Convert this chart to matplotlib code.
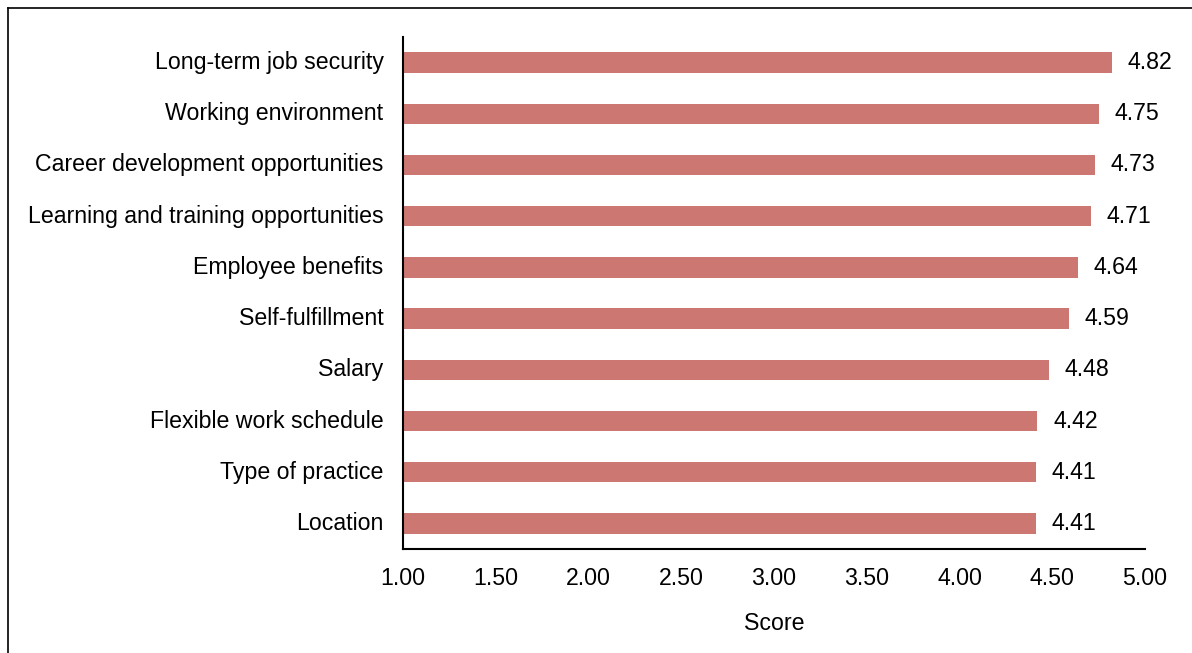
import matplotlib.pyplot as plt
from matplotlib.lines import Line2D

plt.rcParams['font.family'] = ['Liberation Sans', 'DejaVu Sans']

factors = ['Long-term job security', 'Working environment', 'Career development opportunities',
           'Learning and training opportunities', 'Employee benefits', 'Self-fulfillment',
           'Salary', 'Flexible work schedule', 'Type of practice', 'Location']
scores = [4.82, 4.75, 4.73, 4.71, 4.64, 4.59, 4.48, 4.42, 4.41, 4.41]
ticks = [1.0, 1.5, 2.0, 2.5, 3.0, 3.5, 4.0, 4.5, 5.0]

fs = 16.7
fig = plt.figure(figsize=(11.92, 6.53), dpi=100)
ax = fig.add_axes([403 / 1192, 1 - 549 / 653, (1145 - 403) / 1192, (549 - 37) / 653])

ypos = list(range(len(factors)))[::-1]
ax.barh(ypos, [s - 1 for s in scores], left=1, height=0.4, color='#cd7773')
for y, s in zip(ypos, scores):
    ax.text(s + 0.085, y, '{0:.2f}'.format(s), va='center', ha='left', fontsize=fs)

ax.set_xlim(1, 5)
ax.set_ylim(-0.5, len(factors) - 0.5)
ax.set_yticks(ypos)
ax.set_yticklabels(factors, fontsize=fs, va='center')
ax.set_xticks(ticks)
ax.set_xticklabels(['{0:.2f}'.format(t) for t in ticks], fontsize=fs)
ax.tick_params(axis='x', length=0, pad=13)
ax.tick_params(axis='y', length=0, pad=14)
ax.set_xlabel('Score', fontsize=fs, labelpad=16)
for side in ['top', 'right']:
    ax.spines[side].set_visible(False)
for side in ['left', 'bottom']:
    ax.spines[side].set_linewidth(1.5)

# outer frame (top and left edges visible)
fig.add_artist(Line2D([8 / 1192, 1.0], [1 - 8 / 653, 1 - 8 / 653], transform=fig.transFigure, color='black', lw=1.2))
fig.add_artist(Line2D([8 / 1192, 8 / 1192], [0, 1 - 8 / 653], transform=fig.transFigure, color='black', lw=1.2))

fig.savefig('out.png', dpi=100)
